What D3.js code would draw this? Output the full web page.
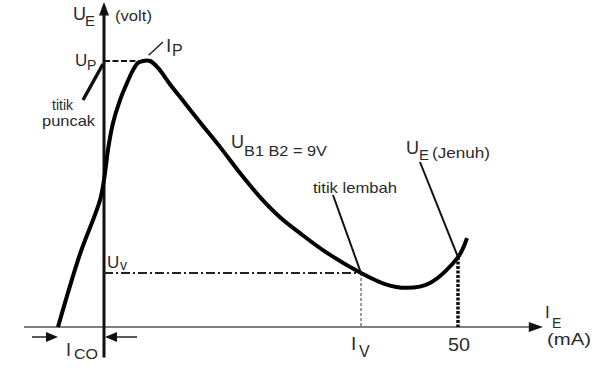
<!DOCTYPE html>
<html><head><meta charset="utf-8">
<script src="https://cdn.jsdelivr.net/npm/d3@7"></script>
<style>body{margin:0;background:#fff}svg{display:block}text{font-family:"Liberation Sans",Arial,sans-serif;fill:#2a2a2a}</style>
</head><body><svg id="c" width="597" height="382"></svg>
<script>
// Emitter current I_E (mA) and emitter voltage U_E (V) of the UJT characteristic
const curveI = [-6.5, -3.39, -0.56, 0.14, 0.56, 1.27, 2.26, 3.25, 4.10, 4.80, 5.51, 6.50, 7.63, 9.32, 11.44, 13.56, 16.38, 19.21, 22.03, 24.86, 27.68, 31.5, 36.3, 39.69, 42.8, 46.05, 50.0, 51.27];
const curveU = [0, 1.92, 3.34, 4.05, 4.66, 5.37, 5.97, 6.42, 6.76, 6.95, 7.0, 7.0, 6.82, 6.39, 5.89, 5.39, 4.74, 4.05, 3.42, 2.89, 2.47, 1.95, 1.42, 1.13, 1.03, 1.16, 1.84, 2.34];
const peakI = 5.2, peakU = 7.0;      // I_P, U_P
const valleyI = 36.3, valleyU = 1.42; // I_V, U_V
const satI = 50, satU = 1.84;         // U_E(Jenuh) at 50 mA
const icoI = -6.5;                    // I_CO
const xTickLabels = ["IV", "50"];

const svg = d3.select("#c");
const x = d3.scaleLinear().domain([0, 50]).range([104, 458]);
const y = d3.scaleLinear().domain([0, 7]).range([327, 61]);

const txt = (s, px, py, size, opts = {}) => {
  const t = svg.append("text").attr("x", px).attr("y", py).attr("font-size", size).text(s);
  if (opts.len) t.attr("textLength", opts.len).attr("lengthAdjust", "spacingAndGlyphs");
  if (opts.anchor) t.attr("text-anchor", opts.anchor);
  return t;
};
const line = (x1, y1, x2, y2, w, col = "#111", dash = null) => {
  const l = svg.append("line").attr("x1", x1).attr("y1", y1).attr("x2", x2).attr("y2", y2)
    .attr("stroke", col).attr("stroke-width", w);
  if (dash) l.attr("stroke-dasharray", dash);
  return l;
};

// x axis
line(x(-11.3), y(0), x(60.2), y(0), 1.5, "#555");
svg.append("path").attr("d", `M${x(60)},${y(0)-5}L${x(62)},${y(0)}L${x(60)},${y(0)+5}Z`).attr("fill", "#111");
// y axis
line(x(0), y(-0.8), x(0), y(8.3), 3, "#111");
svg.append("path").attr("d", `M${x(0)-5},${y(8.2)}L${x(0)},${y(8.55)}L${x(0)+5},${y(8.2)}Z`).attr("fill", "#111");

// reference dashed lines
line(x(0), y(peakU), x(peakI), y(peakU), 2, "#111", "6,2.5");
line(x(0), y(valleyU), x(valleyI), y(valleyU), 2, "#222", "9,3,2,3");
line(x(valleyI), y(valleyU), x(valleyI), y(0), 1, "#333", "3,2");
line(x(satI), y(satU), x(satI), y(0), 3.5, "#111", "3,1.5");

// curve
const pts = curveI.map((d, i) => [x(d), y(curveU[i])]);
svg.append("path").attr("d", d3.line().curve(d3.curveCatmullRom.alpha(0.5))(pts))
  .attr("fill", "none").attr("stroke", "#000").attr("stroke-width", 4).attr("stroke-linejoin", "round");

// pointers
line(83, 100, x(0) - 1, y(peakU) + 3, 3.5, "#111");
line(x(6.3), y(7.15), 163, 42, 1.5, "#222");
line(333, 195, x(valleyI), y(valleyU), 2, "#111");
line(420, 162, x(satI), y(satU), 2, "#111");

// I_CO arrows
const ay = 337;
line(32, ay, x(icoI) - 10, ay, 1.5, "#222");
svg.append("path").attr("d", `M${x(icoI)-12},${ay-5}L${x(icoI)},${ay}L${x(icoI)-12},${ay+5}Z`).attr("fill", "#111");
line(137, ay, x(0) + 11, ay, 1.5, "#222");
svg.append("path").attr("d", `M${x(0)+13},${ay-5}L${x(0)+1},${ay}L${x(0)+13},${ay+5}Z`).attr("fill", "#111");

// labels
txt("U", 73, 20, 18); txt("E", 85, 26, 15);
txt("(volt)", 115, 21, 14, {len: 37});
txt("U", 75, 66, 17); txt("P", 87, 70, 14);
txt("I", 166, 52, 19); txt("P", 172, 56, 16);
txt("titik", 52, 110, 15, {len: 21});
txt("puncak", 42, 126, 15, {len: 53});
txt("U", 231, 148, 18); txt("B1 B2 = 9V", 244, 156, 15, {len: 83});
txt("titik lembah", 313, 193, 15, {len: 84});
txt("U", 406, 154, 18); txt("E", 419, 160, 15); txt("(Jenuh)", 432, 158, 14, {len: 58});
txt("U", 107, 268, 17); txt("v", 120, 270, 14);
txt("I", 351, 350, 19); txt("V", 359, 357, 16);
txt(xTickLabels[1], x(50) + 1, 351, 19, {anchor: "middle", len: 22});
txt("I", 545, 318, 17); txt("E", 552, 328, 14);
txt("(mA)", 547, 345, 16, {len: 44});
txt("I", 66, 356, 18); txt("CO", 74, 359, 15, {len: 24});
</script></body></html>
